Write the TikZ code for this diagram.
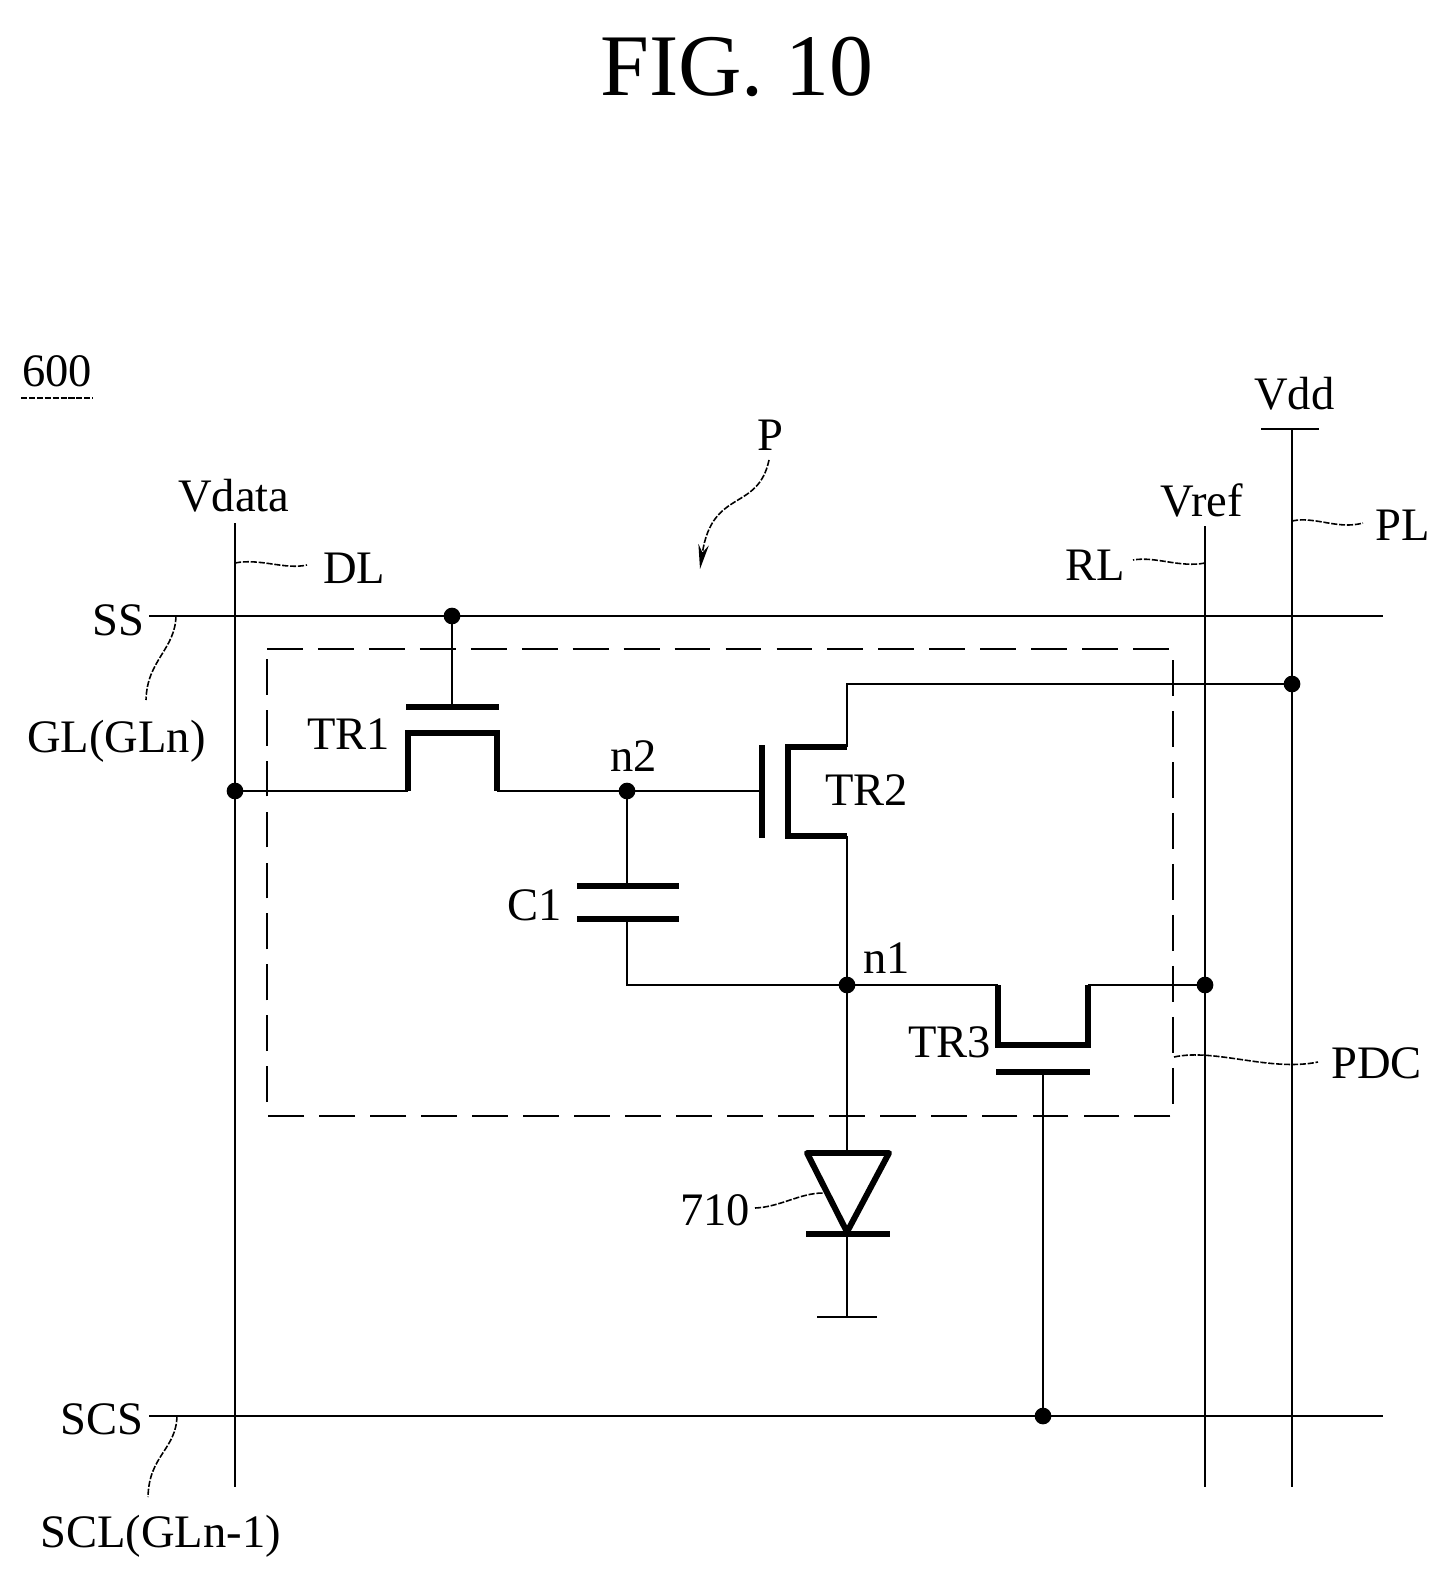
\documentclass[tikz,border=0pt]{standalone}
\usepackage{fontspec}
\setmainfont{Liberation Serif}
\usetikzlibrary{arrows.meta}
\tikzset{
    wire/.style={line width=1.5pt},
    plate/.style={line width=3.4pt},
    lead/.style={line width=0.9pt, dash pattern=on 3.5pt off 1pt},
    lbl/.style={anchor=base west, inner sep=0pt, font=\fontsize{26.5}{30}\selectfont},
    junction/.style={circle, fill=black, inner sep=0pt, minimum size=9.5pt}
}
\begin{document}
\begin{tikzpicture}[x=0.02cm, y=-0.02cm]
    \useasboundingbox (0, 0) rectangle (1449, 1577);
    % Signal lines
    \path (235, 523) coordinate (DLt);
    \path (235, 1487) coordinate (DLb);
    \path (1205, 526) coordinate (RLt);
    \path (1205, 1487) coordinate (RLb);
    \path (1292, 429) coordinate (PLt);
    \path (1292, 1487) coordinate (PLb);
    \path (1261, 429) coordinate (PLl);
    \path (1319, 429) coordinate (PLr);
    \path (149, 616) coordinate (SSl);
    \path (1383, 616) coordinate (SSr);
    \path (149, 1416) coordinate (SCSl);
    \path (1383, 1416) coordinate (SCSr);
    % Box corners
    \path (267, 649) coordinate (B1);
    \path (1173, 649) coordinate (B2);
    \path (1173, 1116) coordinate (B3);
    \path (267, 1116) coordinate (B4);
    % Junctions
    \path (452, 616) coordinate (J1);
    \path (235, 791) coordinate (J2);
    \path (627, 791) coordinate (N2);
    \path (847, 985) coordinate (N1);
    \path (1205, 985) coordinate (J3);
    \path (1292, 684) coordinate (J4);
    \path (1043, 1416) coordinate (J5);
    % TR1
    \path (406, 707) coordinate (G1l);
    \path (499, 707) coordinate (G1r);
    \path (452, 707) coordinate (G1);
    \path (408, 791) coordinate (S1a);
    \path (408, 733) coordinate (S1b);
    \path (497, 733) coordinate (S1c);
    \path (497, 791) coordinate (S1d);
    % TR2
    \path (762, 745) coordinate (G2t);
    \path (762, 838) coordinate (G2b);
    \path (762, 791) coordinate (G2);
    \path (847, 747) coordinate (S2a);
    \path (788, 747) coordinate (S2b);
    \path (788, 836) coordinate (S2c);
    \path (847, 836) coordinate (S2d);
    \path (847, 684) coordinate (D2);
    % TR3
    \path (998, 985) coordinate (S3a);
    \path (998, 1045) coordinate (S3b);
    \path (1088, 1045) coordinate (S3c);
    \path (1088, 985) coordinate (S3d);
    \path (996, 1072) coordinate (G3l);
    \path (1090, 1072) coordinate (G3r);
    \path (1043, 1072) coordinate (G3);
    % C1
    \path (577, 886) coordinate (C1a);
    \path (679, 886) coordinate (C1b);
    \path (577, 919) coordinate (C1c);
    \path (679, 919) coordinate (C1d);
    \path (627, 886) coordinate (C1t);
    \path (627, 919) coordinate (C1m);
    \path (627, 985) coordinate (C1e);
    % Diode and ground
    \path (807, 1153) coordinate (D1);
    \path (889, 1153) coordinate (D3);
    \path (847, 1153) coordinate (Dt);
    \path (847, 1232) coordinate (Da);
    \path (806, 1234) coordinate (K1);
    \path (890, 1234) coordinate (K2);
    \path (847, 1317) coordinate (E);
    \path (817, 1317) coordinate (E1);
    \path (877, 1317) coordinate (E2);

    % Title and labels
    \node[lbl, font=\fontsize{50}{55}\selectfont] (title) at (600, 96) {FIG. 10};
    \node[lbl] (n600) at (22, 387) {600};
    \node[lbl] (vdata) at (178, 511) {Vdata};
    \node[lbl] (dl) at (323, 583) {DL};
    \node[lbl] (ss) at (92, 635) {SS};
    \node[lbl] (gl) at (27, 752) {GL(GLn)};
    \node[lbl] (tr1) at (307, 749) {TR1};
    \node[lbl] (ntwo) at (610, 771) {n2};
    \node[lbl] (c1) at (507, 920) {C1};
    \node[lbl] (tr2) at (825, 805) {TR2};
    \node[lbl] (none) at (863, 973) {n1};
    \node[lbl] (tr3) at (908, 1057) {TR3};
    \node[lbl] (pdc) at (1331, 1078) {PDC};
    \node[lbl] (n710) at (680, 1225) {710};
    \node[lbl] (p) at (757, 451) {P};
    \node[lbl] (vdd) at (1254, 410) {Vdd};
    \node[lbl] (vref) at (1160, 516) {Vref};
    \node[lbl] (rl) at (1065, 580) {RL};
    \node[lbl] (pl) at (1375, 540) {PL};
    \node[lbl] (scs) at (60, 1434) {SCS};
    \node[lbl] (scl) at (40, 1547) {SCL(GLn-1)};

    % Underline
    \draw[lead] (21, 398) -- (93, 398);

    % Lines
    \draw[wire] (DLt) -- (DLb);
    \draw[wire] (RLt) -- (RLb);
    \draw[wire] (PLt) -- (PLb);
    \draw[wire] (PLl) -- (PLr);
    \draw[wire] (SSl) -- (SSr);
    \draw[wire] (SCSl) -- (SCSr);

    % Dashed box
    \draw[wire, dash pattern=on 20.4pt off 8.6pt] (B1) -- (B2) -- (B3) -- (B4) -- cycle;

    % TR1
    \draw[wire] (J1) -- (G1);
    \draw[plate] (G1l) -- (G1r);
    \draw[wire] (J2) -- (S1a);
    \draw[plate] (S1a) -- (S1b) -- (S1c) -- (S1d);
    \draw[wire] (S1a) -- (J2);
    \draw[wire] (S1d) -- (N2) -- (G2);

    % TR2
    \draw[plate] (G2t) -- (G2b);
    \draw[plate] (S2a) -- (S2b) -- (S2c) -- (S2d);
    \draw[wire] (S2a) -- (D2) -- (J4);
    \draw[wire] (S2d) -- (N1);

    % C1
    \draw[wire] (N2) -- (C1t);
    \draw[plate] (C1a) -- (C1b);
    \draw[plate] (C1c) -- (C1d);
    \draw[wire] (C1m) -- (C1e) -- (N1);

    % TR3
    \draw[wire] (N1) -- (S3a);
    \draw[plate] (S3a) -- (S3b) -- (S3c) -- (S3d);
    \draw[wire] (S3d) -- (J3);
    \draw[plate] (G3l) -- (G3r);
    \draw[wire] (G3) -- (J5);

    % Diode
    \draw[wire] (N1) -- (Dt);
    \draw[plate, line join=round] (D1) -- (D3) -- (Da) -- cycle;
    \draw[plate] (K1) -- (K2);
    \draw[wire] (Da) -- (E);
    \draw[wire] (E1) -- (E2);

    % Junction dots
    \node[junction] (dot1) at (J1) {};
    \node[junction] (dot2) at (J2) {};
    \node[junction] (dot3) at (N2) {};
    \node[junction] (dot4) at (N1) {};
    \node[junction] (dot5) at (J3) {};
    \node[junction] (dot6) at (J4) {};
    \node[junction] (dot7) at (J5) {};

    % Leaders
    \path (307, 565) coordinate (LDL);
    \path (235, 563) coordinate (LDLs);
    \draw[lead] (LDLs) .. controls (260, 558) and (285, 570) .. (LDL);
    \path (176, 616) coordinate (LGLs);
    \path (146, 700) coordinate (LGL);
    \draw[lead] (LGLs) .. controls (175, 650) and (147, 660) .. (LGL);
    \path (177, 1416) coordinate (LSCs);
    \path (148, 1497) coordinate (LSC);
    \draw[lead] (LSCs) .. controls (176, 1450) and (149, 1455) .. (LSC);
    \path (1205, 563) coordinate (LRLs);
    \path (1133, 560) coordinate (LRL);
    \draw[lead] (LRLs) .. controls (1180, 568) and (1155, 556) .. (LRL);
    \path (1292, 521) coordinate (LPLs);
    \path (1363, 523) coordinate (LPL);
    \draw[lead] (LPLs) .. controls (1315, 516) and (1338, 530) .. (LPL);
    \path (1174, 1057) coordinate (LPDs);
    \path (1318, 1062) coordinate (LPD);
    \draw[lead] (LPDs) .. controls (1215, 1048) and (1270, 1072) .. (LPD);
    \path (755, 1208) coordinate (L71);
    \path (823, 1193) coordinate (L71e);
    \draw[lead] (L71) .. controls (780, 1207) and (800, 1193) .. (L71e);
    % Arrow to the pixel
    \path (769, 460) coordinate (Pa);
    \path (700, 569) coordinate (Pb);
    \draw[lead, -{Stealth[length=14pt, width=6pt]}] (Pa) .. controls (758, 512) and (712, 488) .. (Pb);
\end{tikzpicture}
\end{document}
